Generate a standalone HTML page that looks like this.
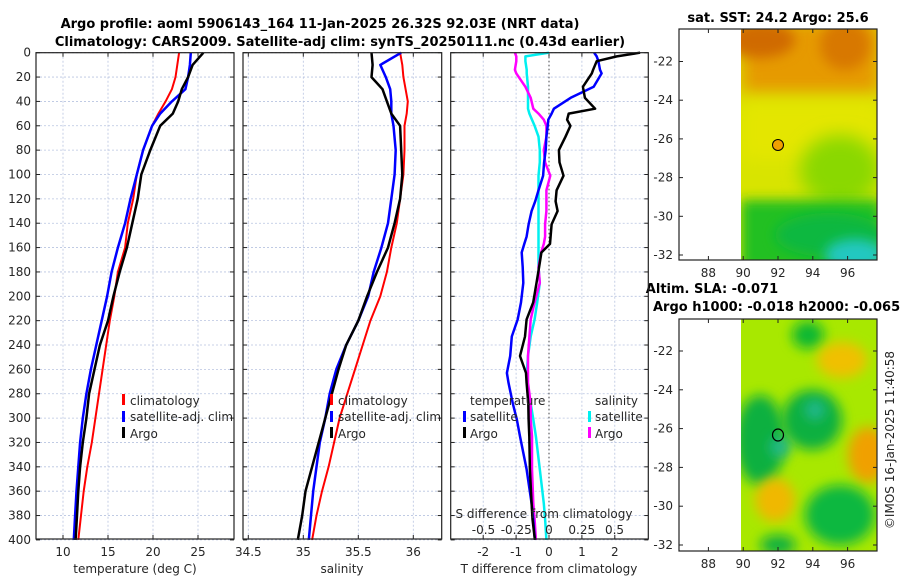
<!DOCTYPE html>
<html><head><meta charset="utf-8"><style>
body{margin:0;background:#fff;}
svg{display:block;font-family:"DejaVu Sans","Liberation Sans",sans-serif;}
.t{font-size:12px;fill:#262626;}
.b{font-size:13px;font-weight:bold;fill:#000;}
.grid{stroke:#b8c4e0;stroke-width:0.8;stroke-dasharray:2,2;}
</style></head><body>
<svg id="fig" width="900" height="580" viewBox="0 0 900 580">
<defs>
<filter id="bl" x="-50%" y="-50%" width="200%" height="200%"><feGaussianBlur stdDeviation="9"/></filter>
<filter id="bl2" x="-50%" y="-50%" width="200%" height="200%"><feGaussianBlur stdDeviation="6"/></filter>
<clipPath id="c1"><rect x="741" y="29" width="136" height="231"/></clipPath>
<clipPath id="c2"><rect x="741" y="319" width="136" height="232"/></clipPath>
</defs>
<text class="b" x="320" y="28" text-anchor="middle">Argo profile: aoml 5906143_164 11-Jan-2025 26.32S 92.03E (NRT data)</text>
<text class="b" x="340" y="46" text-anchor="middle">Climatology: CARS2009. Satellite-adj clim: synTS_20250111.nc (0.43d earlier)</text>

<g>
<text class="b" x="778" y="22" text-anchor="middle">sat. SST: 24.2 Argo: 25.6</text>
<g clip-path="url(#c1)">
<rect x="741" y="29" width="136" height="231" fill="#d8e400"/>
<rect x="741" y="20" width="140" height="75" fill="#e69a00" filter="url(#bl)"/>
<ellipse cx="760" cy="40" rx="35" ry="18" fill="#d06a00" filter="url(#bl2)"/>
<ellipse cx="845" cy="45" rx="25" ry="25" fill="#d87800" filter="url(#bl2)"/>
<rect x="741" y="100" width="140" height="60" fill="#e4e600" filter="url(#bl)"/>
<ellipse cx="840" cy="170" rx="40" ry="35" fill="#8ad800" filter="url(#bl)"/>
<rect x="741" y="200" width="140" height="70" fill="#20c020" filter="url(#bl2)"/>
<ellipse cx="830" cy="235" rx="55" ry="22" fill="#10b840" filter="url(#bl2)"/>
<ellipse cx="855" cy="255" rx="30" ry="16" fill="#20c8c0" filter="url(#bl2)"/>
</g>
<circle cx="778" cy="145" r="5.5" fill="#f0a000" stroke="#000" stroke-width="1"/>
</g>

<g>
<text class="b" x="712" y="293" text-anchor="middle">Altim. SLA: -0.071</text>
<text class="b" x="653" y="311">Argo h1000: -0.018 h2000: -0.065</text>
<g clip-path="url(#c2)">
<rect x="741" y="319" width="136" height="232" fill="#a8e800"/>
<ellipse cx="808" cy="335" rx="16" ry="14" fill="#10b830" filter="url(#bl2)"/>
<ellipse cx="842" cy="360" rx="25" ry="18" fill="#f0c000" filter="url(#bl2)"/>
<ellipse cx="760" cy="440" rx="25" ry="45" fill="#10b040" filter="url(#bl2)"/>
<ellipse cx="812" cy="420" rx="30" ry="30" fill="#10b040" filter="url(#bl2)"/>
<ellipse cx="815" cy="410" rx="10" ry="10" fill="#20b890" filter="url(#bl2)"/>
<ellipse cx="780" cy="447" rx="10" ry="10" fill="#20b890" filter="url(#bl2)"/>
<ellipse cx="868" cy="455" rx="20" ry="28" fill="#f0a000" filter="url(#bl2)"/>
<ellipse cx="775" cy="500" rx="20" ry="22" fill="#f0b800" filter="url(#bl2)"/>
<ellipse cx="840" cy="515" rx="35" ry="30" fill="#10b840" filter="url(#bl2)"/>
<ellipse cx="778" cy="545" rx="18" ry="10" fill="#10b040" filter="url(#bl2)"/>
</g>
<ellipse cx="778" cy="435" rx="5.5" ry="6" fill="none" stroke="#000" stroke-width="1.2"/>
<text class="t" transform="translate(894,440) rotate(-90)" text-anchor="middle">©IMOS 16-Jan-2025 11:40:58</text>
</g>
<g id="dyn"></g>
</svg>
<script>
const depths=[0,10,20,30,40,50,60,80,100,120,140,160,180,200,220,240,260,280,300,320,340,360,380,400];
const tempClim=[22.9,22.7,22.5,22.1,21.4,20.6,19.9,18.9,18.2,17.8,17.2,16.9,16.1,15.7,15.2,14.8,14.4,14.0,13.6,13.2,12.7,12.3,12.0,11.7];
const tempSat=[24.2,24.1,23.9,23.6,22.1,20.8,19.9,18.9,18.2,17.5,16.9,16.1,15.4,14.9,14.3,13.7,13.1,12.6,12.2,11.9,11.7,11.5,11.35,11.2];
const tempArgo=[25.6,24.4,23.9,23.2,22.8,22.2,20.8,19.7,18.7,18.3,17.7,17.1,16.3,15.6,15.0,14.1,13.5,12.9,12.6,12.2,11.9,11.7,11.55,11.4];
const salClim=[35.88,35.90,35.91,35.93,35.95,35.94,35.92,35.92,35.91,35.88,35.85,35.80,35.76,35.70,35.61,35.54,35.47,35.40,35.33,35.28,35.23,35.17,35.12,35.08];
const salSat=[35.89,35.70,35.75,35.79,35.80,35.80,35.82,35.84,35.83,35.80,35.77,35.71,35.64,35.59,35.50,35.39,35.30,35.24,35.20,35.15,35.12,35.09,35.07,35.05];
const salArgo=[35.62,35.63,35.62,35.72,35.76,35.80,35.88,35.89,35.90,35.88,35.83,35.77,35.67,35.58,35.50,35.39,35.32,35.26,35.20,35.14,35.08,35.02,34.99,34.95];
const dDepths=[0,3,7,14,17,28,37,46,50,55,60,69,80,90,101,113,122,130,141,151,157,164,176,189,205,219,233,249,263,271,288,301,315,342,370,383,400];
const dTSat=[1.37,1.45,1.5,1.55,1.6,1.36,0.66,0.15,0.08,-0.02,-0.04,-0.08,-0.1,-0.15,-0.18,-0.32,-0.42,-0.53,-0.62,-0.68,-0.75,-0.83,-0.8,-0.78,-0.85,-0.95,-1.13,-1.18,-1.28,-1.23,-1.1,-0.98,-0.88,-0.68,-0.53,-0.48,-0.43];
const dTArgo=[2.77,2.06,1.45,1.34,1.3,1.03,1.09,1.4,0.6,0.55,0.65,0.5,0.3,0.32,0.44,0.23,0.2,0.26,0.08,0.05,0.03,-0.23,-0.3,-0.38,-0.48,-0.68,-0.73,-0.88,-0.7,-0.68,-0.63,-0.62,-0.6,-0.58,-0.53,-0.5,-0.43];
const dSSat=[0,-0.18,-0.18,-0.17,-0.17,-0.16,-0.16,-0.16,-0.15,-0.13,-0.11,-0.08,-0.07,-0.07,-0.08,-0.08,-0.08,-0.08,-0.08,-0.08,-0.08,-0.08,-0.08,-0.07,-0.09,-0.11,-0.14,-0.16,-0.17,-0.17,-0.14,-0.12,-0.1,-0.07,-0.04,-0.03,-0.02];
const dSArgo=[-0.26,-0.25,-0.25,-0.26,-0.25,-0.18,-0.14,-0.12,-0.08,-0.04,-0.02,-0.02,-0.04,-0.03,0.01,-0.02,-0.02,-0.02,-0.03,-0.03,-0.04,-0.06,-0.08,-0.07,-0.11,-0.14,-0.15,-0.16,-0.16,-0.16,-0.14,-0.14,-0.13,-0.13,-0.12,-0.11,-0.1];
const depthTicks=[0,20,40,60,80,100,120,140,160,180,200,220,240,260,280,300,320,340,360,380,400];
const tempTicks=[10,15,20,25];
const salTicks=[34.5,35,35.5,36];
const dTTicks=[-2,-1,0,1,2];
const dSTicks=[-0.5,-0.25,0,0.25,0.5];
const latTicks=[-22,-24,-26,-28,-30,-32];
const lonTicks=[88,90,92,94,96];

const NS='http://www.w3.org/2000/svg';
const root=document.getElementById('dyn');
function mk(tag,attrs,parent){const e=document.createElementNS(NS,tag);for(const k in attrs)e.setAttribute(k,attrs[k]);(parent||root).appendChild(e);return e;}
const yD=d=>52.7+d*1.218;
const xT=v=>63+(v-10)*9;
const xS=v=>303.3+(v-35)*110;
const xDT=v=>549+v*32.9;
const xDS=v=>549+v*131;
const panels=[{x0:36,x1:234,name:'temperature-panel'},{x0:243,x1:441.7,name:'salinity-panel'},{x0:450.7,x1:648.3,name:'difference-panel'}];
const Y0=52.7,Y1=539;

function panelFrame(p,vticks,xf,labels){
  const g=mk('g',{});
  
  
  depthTicks.forEach(d=>{const l=mk('line',{x1:p.x0,x2:p.x1,y1:yD(d),y2:yD(d),class:'grid'},g);
    
    mk('line',{x1:p.x0,x2:p.x0+4,y1:yD(d),y2:yD(d),stroke:'#222'},g);
    mk('line',{x1:p.x1-4,x2:p.x1,y1:yD(d),y2:yD(d),stroke:'#222'},g);});
  vticks.forEach((v,i)=>{const x=xf(v);const l=mk('line',{x1:x,x2:x,y1:Y0,y2:Y1,class:'grid'},g);
    
    mk('line',{x1:x,x2:x,y1:Y1-4,y2:Y1,stroke:'#222'},g);mk('line',{x1:x,x2:x,y1:Y0,y2:Y0+4,stroke:'#222'},g);
    if(labels){const t=mk('text',{x:x,y:556,class:'t','text-anchor':'middle'},g);t.textContent=labels[i];
    }});
  return g;
}
function box(p){const r=mk('rect',{x:p.x0,y:Y0,width:p.x1-p.x0,height:Y1-Y0,fill:'none',stroke:'#222','stroke-width':1.2});
  }
function line(xs,ds,xf,col,name,w){const pts=xs.map((v,i)=>xf(v).toFixed(1)+','+yD(ds[i]).toFixed(1)).join(' ');
  const l=mk('polyline',{points:pts,fill:'none',stroke:col,'stroke-width':w||2.5,'stroke-linejoin':'round'});
  }
function txt(x,y,s,name,anchor){const t=mk('text',{x:x,y:y,class:'t','text-anchor':anchor||'start'});t.textContent=s;
  return t;}
function legMark(x,y,col){const r=mk('rect',{x:x,y:y-10,width:3,height:11,fill:col});
  }

panelFrame(panels[0],tempTicks,xT,tempTicks.map(String));
panelFrame(panels[1],salTicks,xS,salTicks.map(String));
panelFrame(panels[2],dTTicks,xDT,dTTicks.map(String));
depthTicks.forEach(d=>txt(31,yD(d)+4,String(d),'depth-tick-label','end'));
const z=mk('line',{x1:549,x2:549,y1:Y0,y2:Y1,stroke:'#444','stroke-dasharray':'1.5,2.5','stroke-width':1});


line(tempClim,depths,xT,'#ff0000','temp-climatology-line',2);
line(tempSat,depths,xT,'#0000ff','temp-satellite-line');
line(tempArgo,depths,xT,'#000000','temp-argo-line');
line(salClim,depths,xS,'#ff0000','sal-climatology-line',2);
line(salSat,depths,xS,'#0000ff','sal-satellite-line');
line(salArgo,depths,xS,'#000000','sal-argo-line');
line(dSSat,dDepths,xDS,'#00f0f0','sdiff-satellite-line');
line(dSArgo,dDepths,xDS,'#ff00ff','sdiff-argo-line');
line(dTSat,dDepths,xDT,'#0000ff','tdiff-satellite-line');
line(dTArgo,dDepths,xDT,'#000000','tdiff-argo-line');
panels.forEach(box);

txt(135,573,'temperature (deg C)','temperature-axis-title','middle');
txt(342,573,'salinity','salinity-axis-title','middle');
txt(549,573,'T difference from climatology','tdiff-axis-title','middle');
txt(544,518,'S difference from climatology','sdiff-axis-title','middle');
dSTicks.forEach(v=>txt(xDS(v),534,String(v),'sdiff-tick-label','middle'));

[[122,130],[330,338]].forEach(([mx,tx])=>{
  legMark(mx,404,'#ff0000');txt(tx,405,'climatology','legend-entry');
  legMark(mx,421,'#0000ff');txt(tx,421,'satellite-adj. clim','legend-entry');
  legMark(mx,437,'#000000');txt(tx,438,'Argo','legend-entry');});
txt(470,405,'temperature','legend-title');
legMark(463,421,'#0000ff');txt(470,421,'satellite','legend-entry');
legMark(463,437,'#000000');txt(470,438,'Argo','legend-entry');
txt(595,405,'salinity','legend-title');
legMark(588,421,'#00f0f0');txt(595,421,'satellite','legend-entry');
legMark(588,437,'#ff00ff');txt(595,438,'Argo','legend-entry');

function mapAxes(top,bot,latY,name){
  const r=mk('rect',{x:679,y:top,width:198,height:bot-top,fill:'none',stroke:'#222','stroke-width':1.2});
  
  latTicks.forEach(v=>{const y=latY(v);mk('line',{x1:679,x2:683,y1:y,y2:y,stroke:'#222'});mk('line',{x1:873,x2:877,y1:y,y2:y,stroke:'#222'});
    txt(673,y+4,String(v),name+'-lat-label','end');});
  lonTicks.forEach(v=>{const x=778+(v-92)*17.4;mk('line',{x1:x,x2:x,y1:bot-4,y2:bot,stroke:'#222'});mk('line',{x1:x,x2:x,y1:top,y2:top+4,stroke:'#222'});
    txt(x,bot+17,String(v),name+'-lon-label','middle');});
}
mapAxes(29,260,v=>61.5+(-22-v)*19.35,'sst-map');
mapAxes(319,551,v=>351+(-22-v)*19.4,'sla-map');
</script>
</body></html>
